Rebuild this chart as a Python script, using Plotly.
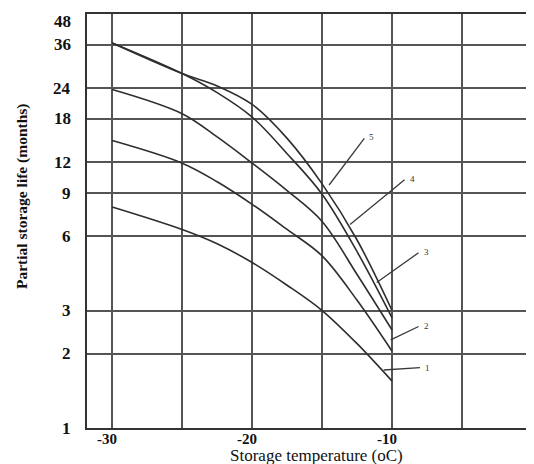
import math
import plotly.graph_objects as go

# Data
temps = [-30, -25, -22.5, -20, -17.5, -15, -12.5, -10]
curve1 = [7.9, 6.4, 5.6, 4.7, 3.8, 3.0, 2.2, 1.55]
curve2 = [14.7, 11.9, 10.0, 8.1, 6.4, 5.0, 3.3, 2.05]
curve3 = [23.7, 18.9, 15.2, 11.9, 9.2, 6.9, 4.2, 2.5]
curve4 = [36.6, 27.5, 23.0, 18.3, 13.0, 8.9, 5.2, 2.8]
curve5 = [36.6, 27.5, 24.5, 20.6, 15.0, 9.8, 5.8, 3.0]
curve_names = ["1", "2", "3", "4", "5"]

# Label pointers: (target x, target y, tail x, tail y)
label_targets_x = [-10.6, -10.1, -11.1, -13.0, -14.5]
label_targets_y = [1.72, 2.28, 3.9, 6.7, 9.7]
label_tails_x = [-7.9, -8.0, -8.0, -9.0, -11.9]
label_tails_y = [1.76, 2.6, 5.2, 10.3, 15.2]

x_grid = [-30, -25, -20, -15, -10, -5]
x_labels = [-30, -20, -10]
y_ticks = [1, 2, 3, 6, 9, 12, 18, 24, 36, 48]
y_ticktext = ["1", "2", "3", "6", "9", "12", "18", "24", "36", "48"]

fig = go.Figure()
line_color = "#2e2e2e"
for name, vals in zip(curve_names, [curve1, curve2, curve3, curve4, curve5]):
    fig.add_trace(go.Scatter(
        x=temps, y=vals, mode="lines", name=name,
        line=dict(color=line_color, width=1.6, shape="spline", smoothing=1.0),
        showlegend=False, hoverinfo="skip"))

for name, tx, ty, ax, ay in zip(curve_names, label_targets_x, label_targets_y,
                                label_tails_x, label_tails_y):
    fig.add_annotation(
        x=tx, y=math.log10(ty), xref="x", yref="y",
        ax=ax, ay=math.log10(ay), axref="x", ayref="y",
        showarrow=True, arrowhead=0, arrowwidth=1.3, arrowcolor="#3a3a3a",
        text="")
    fig.add_annotation(
        x=ax, y=math.log10(ay), xref="x", yref="y",
        text=name, showarrow=False, xanchor="left", xshift=2,
        font=dict(family="Liberation Serif", size=9, color="#333"))

serif = "Liberation Serif"
# x tick labels placed just under the axis
for xv in x_labels:
    fig.add_annotation(
        x=xv, y=0, xref="x", yref="paper", text=f"<b>{xv}</b>",
        xanchor="center", yanchor="top", yshift=-1, xshift=-5,
        showarrow=False, font=dict(family=serif, size=15, color="#111"))

# y tick labels (the top one sits just under the top border)
for yv, yt in zip(y_ticks, y_ticktext):
    fig.add_annotation(
        x=0, y=math.log10(yv), xref="paper", yref="y", text=f"<b>{yt}</b>",
        xanchor="right", yanchor="middle", xshift=-14,
        yshift=-7 if yv == y_ticks[-1] else 0,
        showarrow=False, font=dict(family=serif, size=17, color="#111"))

# The page body adds an 8px margin, so the figure is 8px smaller on each axis
fig.update_layout(
    width=526, height=456,
    margin=dict(l=79, r=2, t=6, b=36),
    paper_bgcolor="white", plot_bgcolor="white",
    font=dict(family=serif, color="#111"),
)
fig.add_annotation(
    text="Storage temperature (oC)", xref="paper", yref="paper",
    x=0.5, y=0, xanchor="center", yanchor="top", yshift=-16, xshift=7,
    showarrow=False, font=dict(family=serif, size=17, color="#111"))
fig.add_annotation(
    text="<b>Partial storage life (months)</b>", xref="paper", yref="paper",
    x=0, y=0.5, xanchor="center", yanchor="middle", xshift=-65, yshift=25,
    textangle=-90, showarrow=False,
    font=dict(family=serif, size=15.5, color="#111"))
fig.update_xaxes(
    range=[-31.8, 0], tickvals=x_grid, showticklabels=False,
    showgrid=True, gridcolor="#555", gridwidth=2,
    showline=True, linecolor="#333", linewidth=2, mirror=True,
    ticks="", zeroline=False,
)
fig.update_yaxes(
    type="log", range=[0, math.log10(48)], tickvals=y_ticks,
    showticklabels=False,
    showgrid=True, gridcolor="#555", gridwidth=2,
    showline=True, linecolor="#333", linewidth=2, mirror=False,
    ticks="", zeroline=False,
)
fig.write_html("out.html")
